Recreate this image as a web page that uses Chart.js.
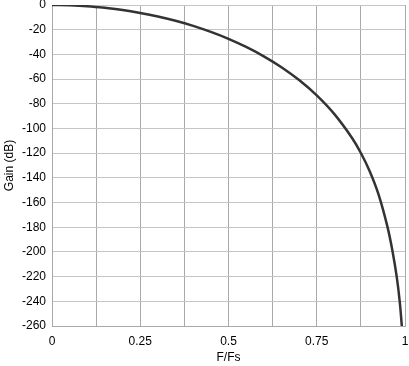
<!DOCTYPE html>
<html lang="en">
<head>
    <meta charset="UTF-8">
    <title>Gain vs F/Fs</title>
    <script src="https://cdn.jsdelivr.net/npm/chart.js"></script>
    <style>
        body { margin: 0; padding: 0; background: #fff; }
        canvas { display: block; }
    </style>
</head>
<body>
    <canvas id="gainChart" width="409" height="366"></canvas>

    <script>
        // values
        const freq = [0, 0.05, 0.1, 0.15, 0.2, 0.25, 0.3, 0.35, 0.4, 0.45, 0.5, 0.55, 0.6, 0.65, 0.7,
                      0.75, 0.8, 0.85, 0.875, 0.9, 0.925, 0.95, 0.965, 0.9765, 0.985, 0.991];
        const gain = [0, -0.3, -1.0, -2.3, -4.0, -6.4, -9.3, -12.8, -16.9, -21.8, -27.4, -34.0, -41.6, -50.4, -60.8,
                      -73.2, -88.4, -107.7, -119.9, -134.6, -153.4, -179.3, -200, -220, -240, -260];
        const xLabels = [0, 0.25, 0.5, 0.75, 1];

        const points = freq.map((f, i) => ({ x: f, y: gain[i] }));
        const font = { family: 'Liberation Sans, Arial, sans-serif', size: 12 };

        new Chart(document.getElementById('gainChart').getContext('2d'), {
            type: 'scatter',
            data: {
                datasets: [{
                    data: points,
                    showLine: true,
                    borderColor: '#333333',
                    borderWidth: 2.5,
                    pointRadius: 0,
                    tension: 0.4
                }]
            },
            options: {
                responsive: false,
                animation: false,
                layout: { padding: { top: 5, right: 4, left: 0, bottom: 0 } },
                plugins: { legend: { display: false }, tooltip: { enabled: false } },
                scales: {
                    x: {
                        type: 'linear',
                        min: 0,
                        max: 1,
                        grid: { color: '#a9a9a9', drawTicks: false },
                        border: { color: '#a9a9a9' },
                        ticks: {
                            stepSize: 0.125,
                            autoSkip: false,
                            maxRotation: 0,
                            padding: 8,
                            color: '#000',
                            font: font,
                            callback: v => xLabels.includes(v) ? String(v) : ''
                        },
                        title: { display: true, text: 'F/Fs', color: '#000', font: font, padding: { top: 0, bottom: 1 } },
                        afterFit: s => { s.height = 40; s.paddingLeft = 0; s.paddingRight = 0; }
                    },
                    y: {
                        min: -260,
                        max: 0,
                        grid: { color: '#c4c4c4', drawTicks: false },
                        border: { color: '#a9a9a9' },
                        ticks: { stepSize: 20, padding: 6, color: '#000', font: font },
                        title: { display: true, text: 'Gain (dB)', color: '#000', font: font, padding: { top: 2, bottom: 0 } },
                        afterFit: s => { s.width = 52; s.paddingTop = 0; s.paddingBottom = 0; }
                    }
                }
            }
        });
    </script>
</body>
</html>
